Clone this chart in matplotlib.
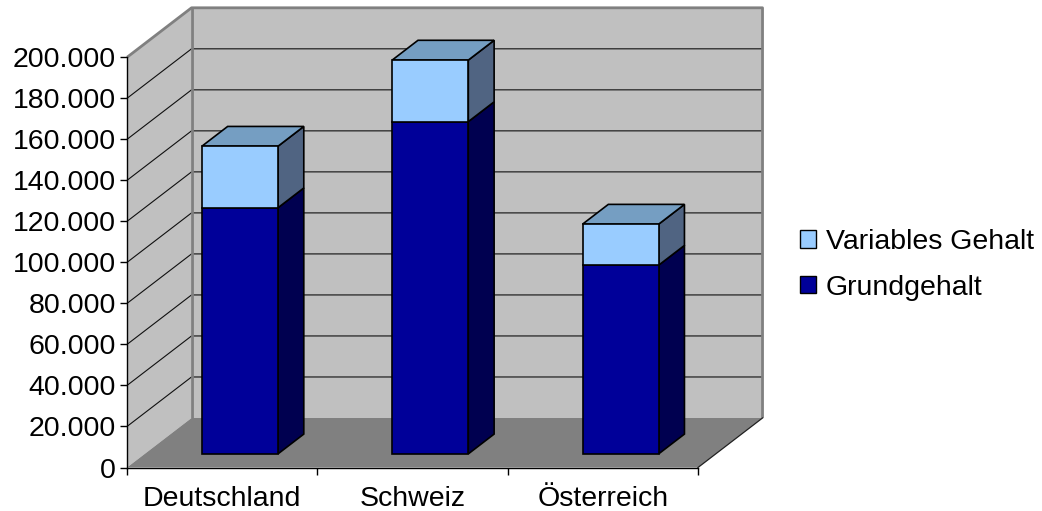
import matplotlib.pyplot as plt
import matplotlib.patches as mpatches
from matplotlib.ticker import FuncFormatter
import numpy as np

plt.rcParams['font.family'] = ['Liberation Sans', 'DejaVu Sans']

# Daten
laender = ['Deutschland', 'Schweiz', 'Österreich']
grundgehalt = [120000, 162000, 92000]
variables_gehalt = [30000, 30000, 20000]
yticks = np.arange(0, 200001, 20000)

# Farben
c_wall = '#c0c0c0'
c_floor = '#808080'
c_edge_wall = '#808080'
c_grund = ['#000099', '#000050', '#000050']      # front, side, top
c_var = ['#99ccff', '#506482', '#759ec2']

# oblique projection: depth z in [0,1] shifts by (DX, DY) in data units
DX = 0.339
DY = 24135.0
YMAX = 200000
NCAT = len(laender)
FS = 20.5

def P(x, y, z):
    return (x + z*DX, y + z*DY)

fig = plt.figure(figsize=(10.42, 5.11), dpi=100)
ax = fig.add_axes([0, 0, 1, 1])
ax.set_xlim(-1.1673, 4.3074)
ax.set_ylim(-21209, 227938)
ax.patch.set_visible(False)

x0, x1 = -0.5, NCAT - 0.5

# Waende und Boden
leftwall = [P(x0, 0, 0), P(x0, YMAX, 0), P(x0, YMAX, 1), P(x0, 0, 1)]
backwall = [P(x0, 0, 1), P(x0, YMAX, 1), P(x1, YMAX, 1), P(x1, 0, 1)]
floor = [P(x0, 0, 0), P(x1, 0, 0), P(x1, 0, 1), P(x0, 0, 1)]
ax.add_patch(mpatches.Polygon(leftwall, closed=True, fc=c_wall, ec='none', zorder=1))
ax.add_patch(mpatches.Polygon(backwall, closed=True, fc=c_wall, ec='none', zorder=1))
ax.add_patch(mpatches.Polygon(floor, closed=True, fc=c_floor, ec='none', zorder=1))

# Gitternetz
for v in yticks[1:-1]:
    a, b, c = P(x0, v, 0), P(x0, v, 1), P(x1, v, 1)
    ax.plot([a[0], b[0], c[0]], [a[1], b[1], c[1]], color='#101010', lw=0.8, zorder=2)

# Kanten der Waende
edges = [[P(x0, YMAX, 0), P(x0, YMAX, 1), P(x1, YMAX, 1), P(x1, 0, 1)],
         [P(x0, YMAX, 1), P(x0, 0, 1)]]
for e in edges:
    e = np.array(e)
    ax.plot(e[:, 0], e[:, 1], color=c_edge_wall, lw=2, zorder=2, solid_capstyle='butt')
e = np.array([P(x1, 0, 0), P(x1, 0, 1)])
ax.plot(e[:, 0], e[:, 1], color='#202020', lw=0.9, zorder=2)

# Saeulen
w = 0.4
z0, z1 = 0.275, 0.675

def box(xc, b, t, cols, top):
    xl, xr = xc - w/2, xc + w/2
    front = [P(xl, b, z0), P(xr, b, z0), P(xr, t, z0), P(xl, t, z0)]
    side = [P(xr, b, z0), P(xr, b, z1), P(xr, t, z1), P(xr, t, z0)]
    ax.add_patch(mpatches.Polygon(side, closed=True, fc=cols[1], ec='black', lw=1.2, zorder=5, joinstyle='miter'))
    ax.add_patch(mpatches.Polygon(front, closed=True, fc=cols[0], ec='black', lw=1.2, zorder=6, joinstyle='miter'))
    if top:
        tp = [P(xl, t, z0), P(xr, t, z0), P(xr, t, z1), P(xl, t, z1)]
        ax.add_patch(mpatches.Polygon(tp, closed=True, fc=cols[2], ec='black', lw=1.2, zorder=5, joinstyle='miter'))

for i in range(NCAT):
    g = grundgehalt[i]
    v = variables_gehalt[i]
    box(i, 0, g, c_grund, False)
    box(i, g, g + v, c_var, True)

# Achsen
for s in ['top', 'right']:
    ax.spines[s].set_visible(False)
ax.spines['left'].set_position(('data', x0))
ax.spines['left'].set_bounds(0, YMAX)
ax.spines['bottom'].set_position(('data', 0))
ax.spines['bottom'].set_bounds(x0, x1)
for s in ['left', 'bottom']:
    ax.spines[s].set_color('black')
    ax.spines[s].set_linewidth(1.0)
    ax.spines[s].set_zorder(3)

ax.set_yticks(yticks)
ax.yaxis.set_major_formatter(FuncFormatter(lambda v, p: '{:,.0f}'.format(v).replace(',', '.')))
ax.tick_params(axis='y', length=5, width=1, pad=3, labelsize=FS, colors='black')

ax.set_xticks(np.arange(x0, x1 + 0.1, 1.0))
ax.set_xticklabels([])
ax.set_xticks(np.arange(NCAT), minor=True)
ax.set_xticklabels(laender, minor=True)
ax.tick_params(axis='x', which='major', length=5, width=1)
ax.tick_params(axis='x', which='minor', length=0, pad=13, labelsize=FS)

# Legende
handles = [mpatches.Patch(fc=c_var[0], ec='black', lw=1, label='Variables Gehalt'),
           mpatches.Patch(fc=c_grund[0], ec='black', lw=1, label='Grundgehalt')]
fig.legend(handles=handles, loc='center left', bbox_to_anchor=(800/1042, 1 - 265/511),
           frameon=False, fontsize=FS, handlelength=0.55, handleheight=0.55,
           handletextpad=0.35, labelspacing=0.7, borderpad=0, borderaxespad=0)

fig.savefig('out.png', dpi=100)
